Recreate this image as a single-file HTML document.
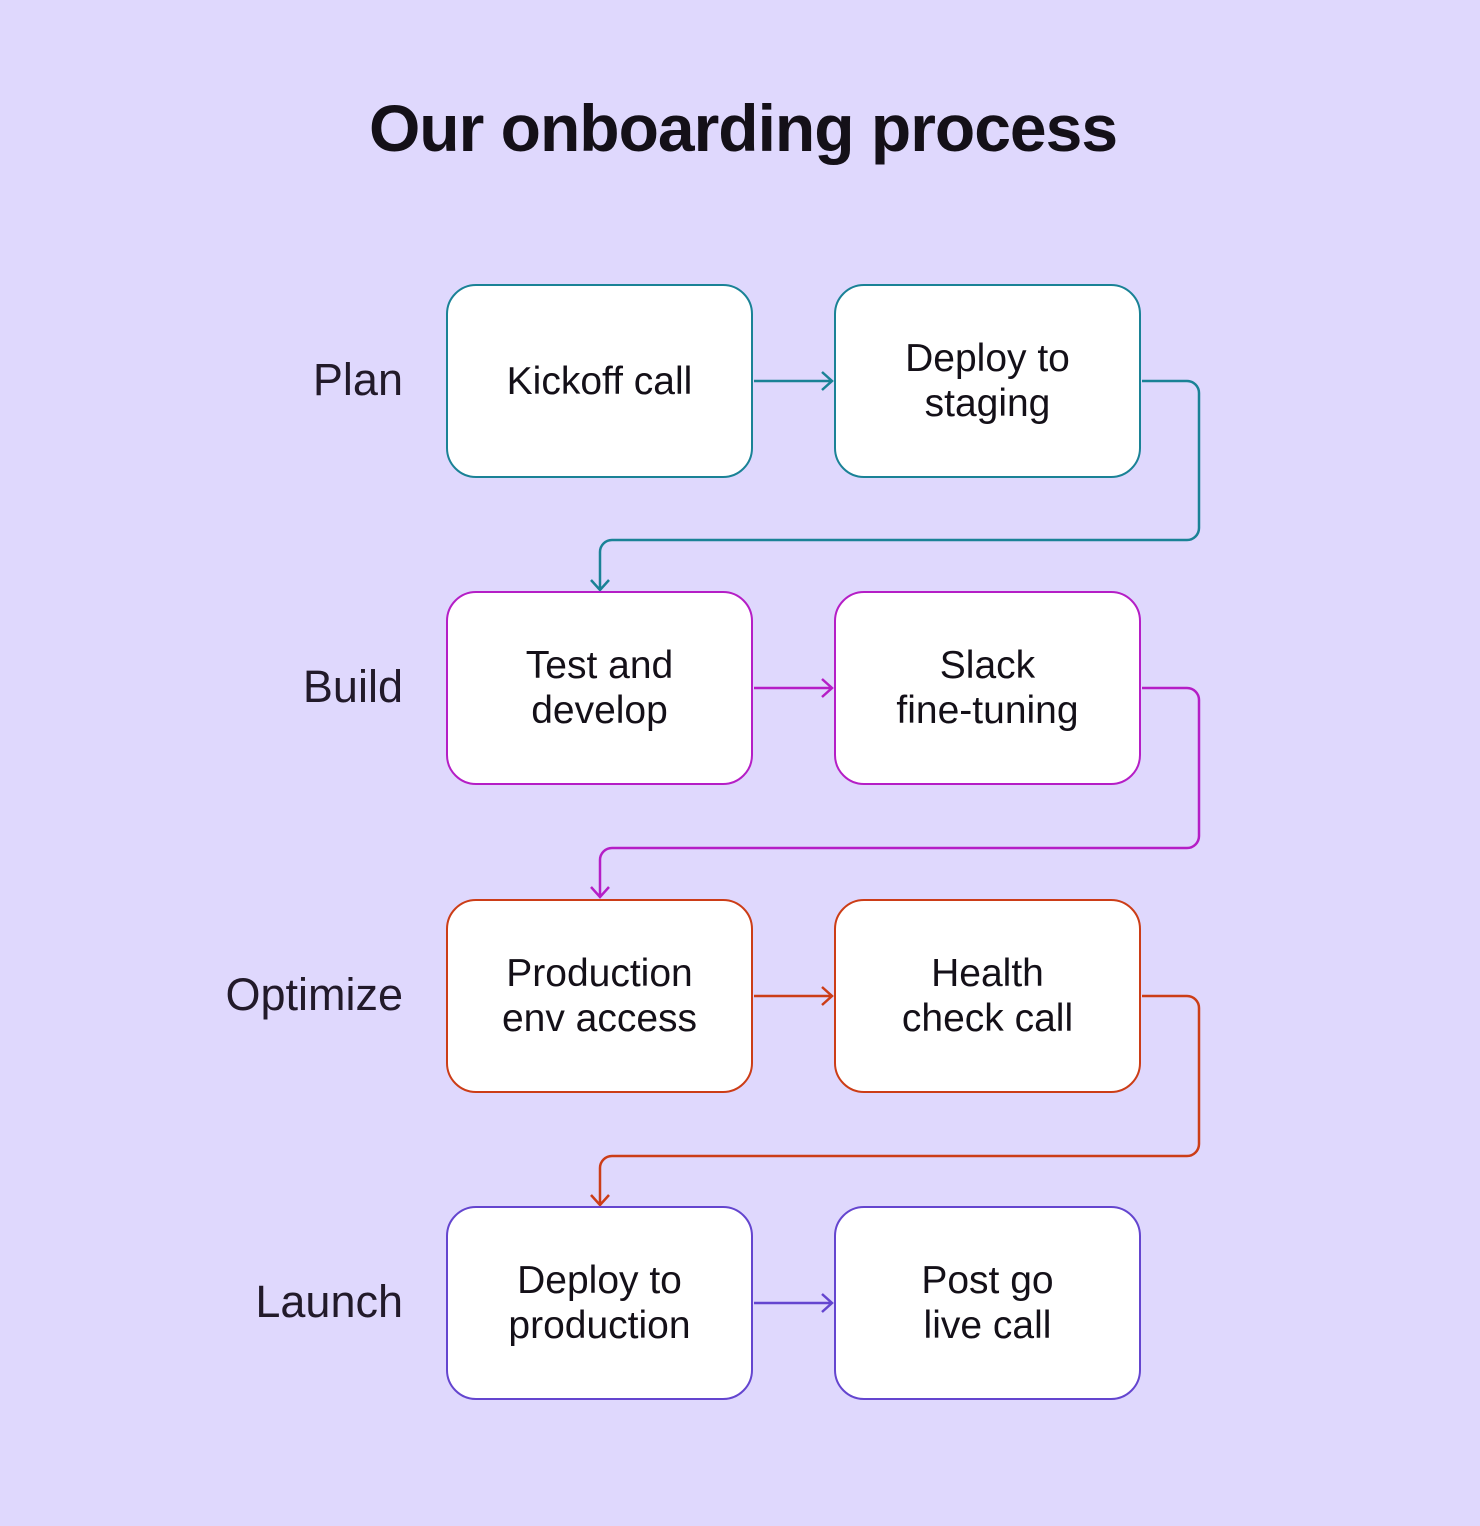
<!DOCTYPE html>
<html><head><style>
body{margin:0;width:1480px;height:1526px;background:#dfd8fd;font-family:"Liberation Sans",sans-serif;position:relative;overflow:hidden}
.t{position:absolute;left:0;width:1486px;top:90px;text-align:center;font-size:66px;font-weight:bold;color:#141018;letter-spacing:-1px}
.b{position:absolute;width:303px;height:190px;background:#fff;border:2px solid;border-radius:30px;box-sizing:content-box;display:flex;align-items:center;justify-content:center;text-align:center;font-size:39px;line-height:45px;color:#141018}
.l{position:absolute;right:1077px;font-size:45px;color:#221a2a;height:190px;display:flex;align-items:center}
</style></head><body>
<div class="t">Our onboarding process</div>
<svg width="1480" height="1526" style="position:absolute;left:0;top:0" fill="none" stroke-width="2.5">
<g stroke="#1a8296"><path d="M754 381H832M822 372l10 9-10 9M1142 381H1187a12 12 0 0 1 12 12V528a12 12 0 0 1-12 12H612a12 12 0 0 0-12 12V590M591 580l9 10 9-10"/></g>
<g stroke="#b51ec6"><path d="M754 688H832M822 679l10 9-10 9M1142 688H1187a12 12 0 0 1 12 12V836a12 12 0 0 1-12 12H612a12 12 0 0 0-12 12V897M591 887l9 10 9-10"/></g>
<g stroke="#cc3d17"><path d="M754 996H832M822 987l10 9-10 9M1142 996H1187a12 12 0 0 1 12 12V1144a12 12 0 0 1-12 12H612a12 12 0 0 0-12 12V1205M591 1195l9 10 9-10"/></g>
<g stroke="#6445cf"><path d="M754 1303H832M822 1294l10 9-10 9"/></g>
</svg>
<div class="l" style="top:285px">Plan</div>
<div class="l" style="top:592px">Build</div>
<div class="l" style="top:900px">Optimize</div>
<div class="l" style="top:1207px">Launch</div>
<div class="b" style="left:446px;top:284px;border-color:#1a8296">Kickoff call</div>
<div class="b" style="left:834px;top:284px;border-color:#1a8296">Deploy to<br>staging</div>
<div class="b" style="left:446px;top:591px;border-color:#b51ec6">Test and<br>develop</div>
<div class="b" style="left:834px;top:591px;border-color:#b51ec6">Slack<br>fine-tuning</div>
<div class="b" style="left:446px;top:899px;border-color:#cc3d17">Production<br>env access</div>
<div class="b" style="left:834px;top:899px;border-color:#cc3d17">Health<br>check call</div>
<div class="b" style="left:446px;top:1206px;border-color:#6445cf">Deploy to<br>production</div>
<div class="b" style="left:834px;top:1206px;border-color:#6445cf">Post go<br>live call</div>
</body></html>
